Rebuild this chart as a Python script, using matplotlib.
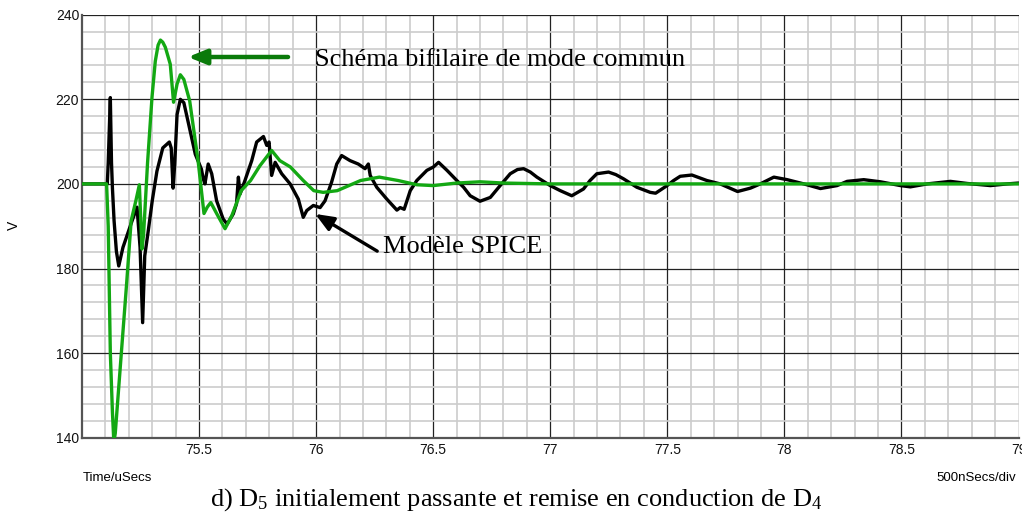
import matplotlib
matplotlib.use("Agg")
import matplotlib.pyplot as plt
from matplotlib.ticker import MultipleLocator

plt.rcParams["mathtext.fontset"] = "custom"
plt.rcParams["mathtext.rm"] = "Liberation Serif"
plt.rcParams["mathtext.it"] = "Liberation Serif:italic"

# Two-wire common-mode model (green)
t_green = [75.00, 75.105, 75.112, 75.121, 75.130, 75.136, 75.142, 75.168, 75.19, 75.21,
           75.23, 75.245, 75.256, 75.263, 75.28, 75.299, 75.313, 75.325, 75.335, 75.345,
           75.356, 75.377, 75.391, 75.406, 75.42, 75.435, 75.46, 75.496, 75.521, 75.535,
           75.55, 75.576, 75.611, 75.64, 75.68, 75.72, 75.76, 75.81, 75.845, 75.89,
           75.945, 75.99, 76.03, 76.09, 76.19, 76.27, 76.35, 76.43, 76.50, 76.60,
           76.70, 76.80, 77.00, 79.00]
v_green = [200, 200, 190, 160, 146, 139, 141, 160, 176, 191.3,
           196, 199.8, 184.6, 188, 205, 220.5, 229, 232.8, 234, 233.5,
           232.3, 228.3, 219.3, 223.6, 225.8, 224.7, 219.6, 205.4, 193, 194.5,
           195.6, 192.9, 189.4, 192.5, 198.4, 200.8, 204.3, 207.9, 205.5, 204,
           200.8, 198.4, 198.0, 198.4, 200.8, 201.6, 200.8, 199.8, 199.6, 200.2,
           200.5, 200.2, 200, 200]

# SPICE model (black)
t_black = [75.00, 75.108, 75.112, 75.121, 75.126, 75.130, 75.137, 75.147, 75.157, 75.175,
           75.214, 75.235, 75.248, 75.259, 75.268, 75.282, 75.30, 75.32, 75.345, 75.373,
           75.381, 75.389, 75.396, 75.406, 75.42, 75.435, 75.456, 75.484, 75.51, 75.518,
           75.525, 75.539, 75.554, 75.575, 75.603, 75.62, 75.646, 75.66, 75.668, 75.675,
           75.696, 75.725, 75.746, 75.775, 75.789, 75.799, 75.81, 75.825, 75.853, 75.889,
           75.924, 75.945, 75.96, 75.988, 76.017, 76.038, 76.066, 76.088, 76.109, 76.145,
           76.18, 76.209, 76.223, 76.231, 76.259, 76.302, 76.345, 76.359, 76.376, 76.402,
           76.43, 76.473, 76.501, 76.523, 76.559, 76.601, 76.63, 76.658, 76.70, 76.744,
           76.786, 76.829, 76.86, 76.886, 76.915, 76.943, 77.00, 77.043, 77.092, 77.142,
           77.17, 77.199, 77.249, 77.28, 77.313, 77.37, 77.427, 77.45, 77.499, 77.527,
           77.555, 77.605, 77.669, 77.726, 77.80, 77.855, 77.897, 77.955, 78.012, 78.083,
           78.154, 78.225, 78.268, 78.339, 78.41, 78.496, 78.538, 78.61, 78.709, 78.781,
           78.88, 78.952, 79.00]
v_black = [200, 200, 205, 220.4, 205, 199, 191.3, 184, 180.6, 185,
           191.3, 194.5, 185, 167.2, 183, 188.5, 196, 203, 208.5, 209.9,
           208.5, 199, 204.6, 216.4, 220, 219.2, 214, 207, 203.5, 201.2,
           200, 204.7, 202.4, 196, 191.7, 190.5, 192.9, 195.3, 201.6, 197.6,
           200.8, 205.5, 209.9, 211.2, 209.1, 209.9, 202, 205.1, 202.4, 200,
           196.4, 192.1, 193.7, 194.9, 194.4, 196, 200.4, 204.7, 206.7, 205.5,
           204.7, 203.6, 204.7, 202, 199.2, 196.4, 193.8, 194.4, 194, 198.4,
           200.8, 203.2, 204, 205.1, 203.2, 200.8, 199.2, 197.2, 195.9, 196.8,
           199.6, 202.4, 203.4, 203.6, 202.8, 201.6, 199.6, 198.4, 197.2, 198.8,
           200.8, 202.4, 202.8, 202.2, 201.2, 199.2, 198, 197.8, 199.6, 200.8,
           201.8, 202.1, 200.8, 200, 198.2, 199, 200, 201.6, 201, 200,
           198.9, 199.6, 200.6, 201, 200.5, 199.6, 199.3, 200, 200.6, 200.1,
           199.6, 200, 200.2]

x_ticks = [75.5, 76, 76.5, 77, 77.5, 78, 78.5, 79]
x_tick_labels = ["75.5", "76", "76.5", "77", "77.5", "78", "78.5", "79"]
y_ticks = [140, 160, 180, 200, 220, 240]

fig = plt.figure(figsize=(10.22, 5.14), dpi=100)
ax = fig.add_axes([82 / 1022, 1 - 437.7 / 514, (1018.5 - 82) / 1022, (437.7 - 14.7) / 514])

ax.set_xlim(75.0, 79.0)
ax.set_ylim(140, 240)

# grid: light minor lines, dark major lines
ax.xaxis.set_minor_locator(MultipleLocator(0.1))
ax.yaxis.set_minor_locator(MultipleLocator(4))
ax.set_xticks(x_ticks)
ax.set_xticklabels(x_tick_labels)
ax.set_yticks(y_ticks)
ax.grid(which="minor", color="#cccccc", linewidth=1.2)
ax.grid(which="major", color="#222222", linewidth=0.9)
ax.set_axisbelow(True)

for side in ("left", "bottom"):
    ax.spines[side].set_color("#555555")
    ax.spines[side].set_linewidth(1.6)
for side in ("top", "right"):
    ax.spines[side].set_visible(False)

ax.tick_params(which="both", length=0)
ax.tick_params(axis="y", pad=2)
ax.tick_params(axis="x", pad=4)
for lab in ax.get_xticklabels() + ax.get_yticklabels():
    lab.set_fontfamily("Liberation Sans")
    lab.set_fontsize(10)
    lab.set_color("#111111")

ax.plot(t_black, v_black, color="black", linewidth=2.4, solid_joinstyle="round",
        solid_capstyle="round", zorder=3)
ax.plot(t_green, v_green, color="#13a813", linewidth=2.4, solid_joinstyle="round",
        solid_capstyle="round", zorder=4)

# annotations
ax.annotate("", xy=(75.453, 230.0), xytext=(75.88, 230.0),
            arrowprops=dict(arrowstyle="-|>,head_length=1.1,head_width=0.45",
                            color="#0a7a0a", lw=3.2, shrinkA=0, shrinkB=0), zorder=5)
ax.text(75.996, 227.9, "Schéma bifilaire de mode commun", family="Liberation Serif",
        fontsize=19, va="baseline", ha="left", zorder=5)

ax.annotate("", xy=(75.996, 192.9), xytext=(76.261, 184.1),
            arrowprops=dict(arrowstyle="-|>,head_length=1.1,head_width=0.45",
                            color="black", lw=2.4, shrinkA=0, shrinkB=0), zorder=5)
ax.text(76.285, 183.7, "Modèle SPICE", family="Liberation Serif",
        fontsize=19, va="baseline", ha="left", zorder=5)

fig.text(14 / 1022, 1 - 225 / 514, "V", rotation=90, family="Liberation Sans",
         fontsize=10, ha="center", va="center")
fig.text(83 / 1022, 1 - 481 / 514, "Time/uSecs", family="Liberation Sans",
         fontsize=9.5, ha="left", va="baseline")
fig.text(1016 / 1022, 1 - 481 / 514, "500nSecs/div", family="Liberation Sans",
         fontsize=9.5, ha="right", va="baseline")
fig.text(516 / 1022, 8 / 514,
         r"d) D$_5$ initialement passante et remise en conduction de D$_4$",
         family="Liberation Serif", fontsize=19, ha="center", va="baseline")

fig.savefig("out.png", dpi=100)
